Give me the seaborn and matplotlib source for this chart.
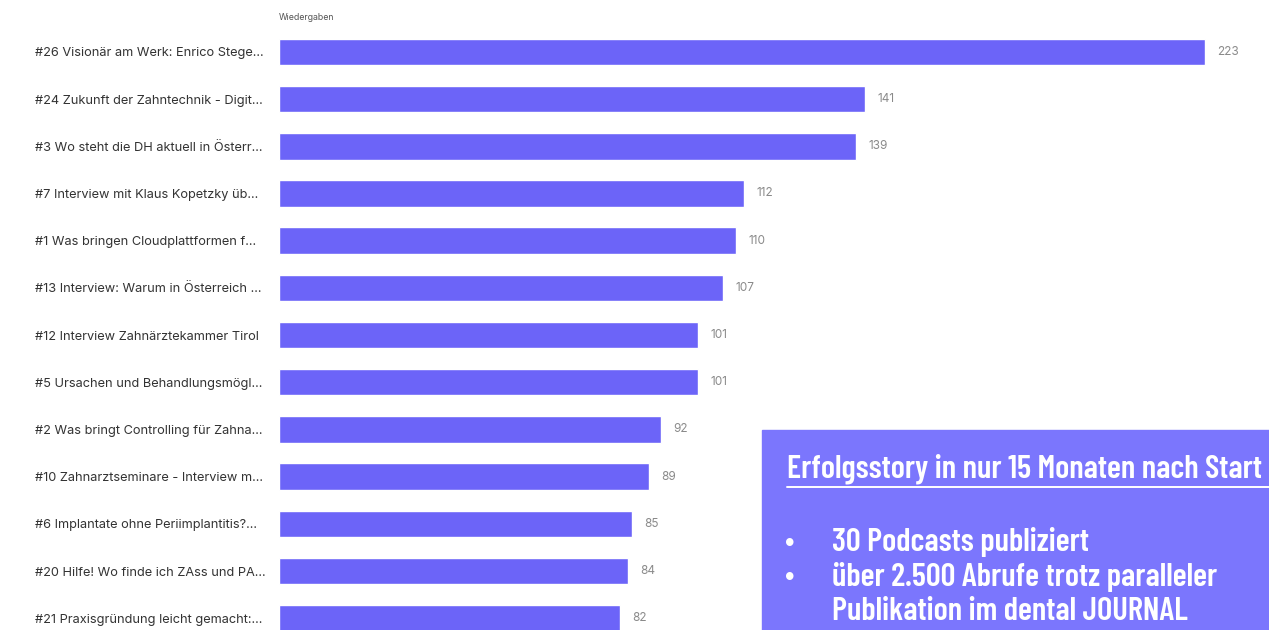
import matplotlib
matplotlib.use("Agg")
import matplotlib.pyplot as plt
import seaborn as sns
from matplotlib.patches import Rectangle

# Daten (Wiedergaben je Episode)
episoden = [
    "#26 Visionär am Werk: Enrico Stege...",
    "#24 Zukunft der Zahntechnik - Digit...",
    "#3 Wo steht die DH aktuell in Österr...",
    "#7 Interview mit Klaus Kopetzky üb...",
    "#1 Was bringen Cloudplattformen f...",
    "#13 Interview: Warum in Österreich ...",
    "#12 Interview Zahnärztekammer Tirol",
    "#5 Ursachen und Behandlungsmögl...",
    "#2 Was bringt Controlling für Zahna...",
    "#10 Zahnarztseminare - Interview m...",
    "#6 Implantate ohne Periimplantitis?...",
    "#20 Hilfe! Wo finde ich ZAss und PA...",
    "#21 Praxisgründung leicht gemacht:...",
]
wiedergaben = [223, 141, 139, 112, 110, 107, 101, 101, 92, 89, 85, 84, 82]

box_titel = "Erfolgsstory in nur 15 Monaten nach Start"
box_zeilen = ["30 Podcasts publiziert",
              "über 2.500 Abrufe trotz paralleler",
              "Publikation im dental JOURNAL"]
box_bullet = [True, True, False]

sns.set_style("white")
plt.rcParams["font.family"] = ["Inter", "DejaVu Sans"]

fig = plt.figure(figsize=(12.69, 6.3), dpi=100)
ax = fig.add_axes([279 / 1269, 0, 990 / 1269, 1])

sns.barplot(x=wiedergaben, y=episoden, orient="h", color="#6c64f8",
            saturation=1, width=0.56, ax=ax)

ax.set_xlim(0, 238.4)
ax.set_ylim(12.25, -1.10)
ax.bar_label(ax.containers[0], padding=9, fontsize=8.5, color="#8a8a8a")

ax.set_xticks([])
ax.tick_params(axis="y", length=0, pad=176, labelsize=9.2, labelcolor="#333333")
for t in ax.get_yticklabels():
    t.set_horizontalalignment("left")
ax.set_xlabel("")
ax.set_ylabel("")
sns.despine(ax=ax, left=True, bottom=True)

fig.text(279 / 1269, 1 - 18 / 630, "Wiedergaben", fontsize=6.3,
         color="#555555", va="center")

# Infobox rechts unten
fig.patches.append(Rectangle((762 / 1269, 0), 1, 200 / 630,
                             transform=fig.transFigure, color="#7b76fd",
                             zorder=5))
narrow = ["Barlow Condensed", "DejaVu Sans"]
fs = 23.5
fig.text(787 / 1269, 1 - 478 / 630, box_titel, fontsize=fs, color="white",
         fontweight="semibold", family=narrow, va="baseline", zorder=6)
fig.add_artist(plt.Line2D([787 / 1269, 1], [1 - 487 / 630] * 2,
                          transform=fig.transFigure, color="white", lw=1.4,
                          zorder=6))
for i, (zeile, bullet) in enumerate(zip(box_zeilen, box_bullet)):
    y = 1 - (551 + 34.5 * i) / 630
    if bullet:
        fig.text(790 / 1269, y, "•", fontsize=fs, color="white",
                 family=narrow, ha="center", va="baseline", zorder=6)
    fig.text(832 / 1269, y, zeile, fontsize=fs, color="white",
             fontweight="semibold", family=narrow, va="baseline", zorder=6)

fig.savefig("out.png", dpi=100)
